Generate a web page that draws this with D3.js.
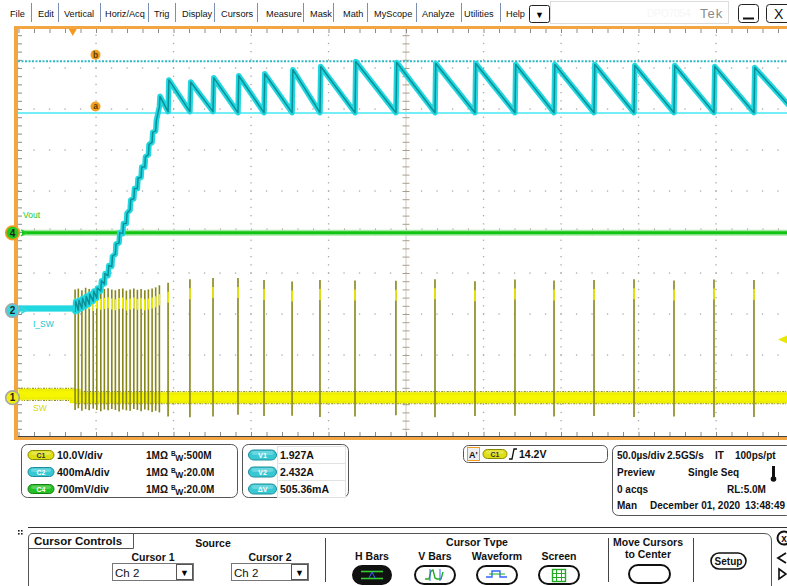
<!DOCTYPE html>
<html><head><meta charset="utf-8">
<script src="https://cdn.jsdelivr.net/npm/d3@7/dist/d3.min.js"></script>
<style>
html,body{margin:0;padding:0;background:#fff;overflow:hidden}
svg{display:block}
text{font-family:"Liberation Sans",Arial,Helvetica,sans-serif}
</style></head><body>
<svg id="c" width="787" height="586"></svg>
<script>
// ================= DATA =================
const menuItems = ["File","Edit","Vertical","Horiz/Acq","Trig","Display","Cursors","Measure","Mask","Math","MyScope","Analyze","Utilities","Help"];
const timeRange = [-250, 250];          // µs, 50 µs/div, 10 div
const divRange = [-5, 5];               // vertical divisions
const majorTimeTicks = [-200,-150,-100,-50,50,100,150,200];
const majorDivTicks = [-4,-3,-2,-1,1,2,3,4];

// channel table
const chIds = ["C1","C2","C4"];
const chScaleText = ["10.0V/div","400mA/div","700mV/div"];
const chImpedance = ["1MΩ","1MΩ","1MΩ"];
const chBandwidth = ["500M","20.0M","20.0M"];
const unitsPerDiv = [10, 0.4, 0.7];
const positionDiv = [-4.04, -1.915, -0.02];
const chLabels = ["SW","I_SW","Vout"];
const chMarkers = ["1","2","4"];

// SW node (C1), volts
const swIdleLevel = 0.8;
const swRunLevel = 0;
const denseT = [-213.5,-211.4,-209.1,-206.7,-204.4,-201.8,-199.5,-196.9,-194.6,-192.2,-189.8,-187.5,-185.1,-182.7,-180.4,-178.0,-175.6,-173.3,-170.9,-168.5,-166.2,-163.8,-161.5,-159.1];
const denseSpikeV = [26.4,26.6,26.2,26.8,26.5,26.0,26.6,26.3,26.5,26.7,26.4,26.2,26.5,26.6,26.1,26.4,26.6,26.3,26.5,26.2,26.4,26.6,26.9,27.4];
const denseDipV = [-3.0,-2.6,-3.2,-2.8,-3.1,-2.7,-3.0,-3.3,-2.9,-3.1,-2.8,-3.0,-3.4,-2.9,-3.1,-3.2,-2.8,-3.0,-3.3,-2.9,-3.1,-3.5,-3.2,-3.6];
const burstT = [-153.5,-139.4,-124.5,-108.4,-91.6,-73.5,-55.5,-32.9,-6.5,18.7,44.5,70.3,95.5,121.3,147.1,172.9,198.7,224.5];
const burstSpikeV = [28.0,28.9,29.2,29.2,28.7,28.3,28.7,28.6,28.5,28.9,28.4,28.8,28.6,28.7,28.9,28.6,28.8,28.7];
const burstDipV = [-4.6,-4.8,-4.6,-4.2,-4.5,-4.4,-4.7,-4.6,-4.3,-4.8,-4.5,-4.4,-4.6,-4.5,-4.7,-4.6,-4.8,-4.7];

// inductor current (C2), amps
const iswIdle = 0.02;
const rampAmps = [0.04,0.05,0.07,0.09,0.11,0.14,0.17,0.24,0.31,0.39,0.48,0.60,0.71,0.80,0.90,1.03,1.14,1.24,1.35,1.45,1.57,1.69,1.80,2.04];
const rampRipple = 0.05;
const burstPeak = [2.25,2.23,2.27,2.29,2.31,2.35,2.38,2.43,2.42,2.41,2.41,2.40,2.40,2.40,2.39,2.39,2.38,2.37];
const burstValley = [1.94,1.94,1.94,1.93,1.93,1.93,1.93,1.93,1.93,1.93,1.93,1.93,1.93,1.93,1.93,1.93,1.93,1.93];
const tailValley = 1.95;

// Vout (C4)
const voutLevel = 0;

// cursors / trigger / timebase
const cursorNames = ["V1","V2","ΔV"];
const cursorAmps = [1.927, 2.432];
const cursorLetters = ["a","b"];
const cursorReadout = ["1.927A","2.432A","505.36mA"];
const trigTime = -215;
const trigLevelV = 14.2;
const trigText = "14.2V";
const timebaseRows = [
  ["50.0µs/div","2.5GS/s","IT","100ps/pt"],
  ["Preview","Single Seq"],
  ["0 acqs","RL:5.0M"],
  ["Man","December 01, 2020","13:48:49"]
];
const cursorTypeNames = ["H Bars","V Bars","Waveform","Screen"];

// ================= DRAW =================
const svg = d3.select("#c");
const x = d3.scaleLinear().domain(timeRange).range([18.5, 793.5]);
const yd = d3.scaleLinear().domain(divRange).range([437, 27]);
const chY = (ch, v) => yd(v / unitsPerDiv[ch] + positionDiv[ch]);

svg.append("rect").attr("width",787).attr("height",586).attr("fill","#fff");

// ---------- menu bar ----------
const menuX = [10,38,64,105,154,182,221,266,310,343,374,422,464,506];
const sepX = [31,58,100,148,175,214,257,303,333,367,416,461,500];
const menu = svg.append("g");
menu.selectAll("text.m").data(menuItems).join("text")
  .attr("x",(d,i)=>menuX[i]).attr("y",16.5).attr("font-size",9.2).attr("fill","#111").text(d=>d);
menu.selectAll("line.s").data(sepX).join("line")
  .attr("x1",d=>d+0.5).attr("x2",d=>d+0.5).attr("y1",3).attr("y2",22).attr("stroke","#7d8fb0").attr("stroke-width",1);
menu.append("rect").attr("x",529.5).attr("y",5.5).attr("width",20).attr("height",17).attr("rx",2).attr("fill","#fff").attr("stroke","#222");
menu.append("text").attr("x",539.5).attr("y",17.5).attr("text-anchor","middle").attr("font-size",9).text("▼");
menu.append("rect").attr("x",550.5).attr("y",1.5).attr("width",178).attr("height",22).attr("fill","#fff").attr("stroke","#dcdcdc");
menu.append("text").attr("x",647).attr("y",17).attr("font-size",10).attr("fill","#f6f6f6").text("DPO7054");
menu.append("text").attr("x",700).attr("y",18).attr("font-size",13).attr("fill","#8a8a8a").attr("letter-spacing",1).text("Tek");
menu.append("rect").attr("x",738.5).attr("y",4.5).attr("width",20).attr("height",18).attr("rx",3).attr("fill","#fff").attr("stroke","#222");
menu.append("line").attr("x1",743).attr("x2",754).attr("y1",18.5).attr("y2",18.5).attr("stroke","#111").attr("stroke-width",2);
menu.append("rect").attr("x",766.5).attr("y",4.5).attr("width",24).attr("height",18).attr("rx",3).attr("fill","#fff").attr("stroke","#222");
menu.append("text").attr("x",774).attr("y",19).attr("font-size",14).attr("fill","#111").text("X");

// ---------- graticule ----------
const plot = svg.append("g");
plot.append("clipPath").attr("id","pc").append("rect").attr("x",18).attr("y",29).attr("width",769).attr("height",408);
const grid = plot.append("g").attr("clip-path","url(#pc)");
const minorDiv = d3.range(-5, 5.001, 0.2);
const minorTime = d3.range(-250, 250.001, 10);
majorTimeTicks.forEach(t => {
  grid.selectAll(null).data(minorDiv).join("rect")
    .attr("x", x(t)-0.6).attr("y", d=>yd(d)-0.6).attr("width",1.3).attr("height",1.3).attr("fill","#a9a9a9");
});
majorDivTicks.forEach(dv => {
  grid.selectAll(null).data(minorTime).join("rect")
    .attr("x", d=>x(d)-0.6).attr("y", yd(dv)-0.6).attr("width",1.3).attr("height",1.3).attr("fill","#a9a9a9");
});
// center cross
grid.append("line").attr("x1",x(0)).attr("x2",x(0)).attr("y1",29).attr("y2",437).attr("stroke","#cfc8bb").attr("stroke-width",1);
grid.append("line").attr("x1",18).attr("x2",787).attr("y1",yd(0)).attr("y2",yd(0)).attr("stroke","#cfc8bb").attr("stroke-width",1);
function tickAxis(axis, tx, ty, color){
  const g = grid.append("g").attr("transform",`translate(${tx},${ty})`).call(axis);
  g.select(".domain").remove();
  g.selectAll("text").remove();
  g.selectAll("line").attr("stroke",color).attr("stroke-width",1);
}
tickAxis(d3.axisLeft(yd).tickValues(minorDiv).tickSize(3.5), x(0), 0, "#a89f8e");
tickAxis(d3.axisRight(yd).tickValues(minorDiv).tickSize(3.5), x(0), 0, "#a89f8e");
tickAxis(d3.axisTop(x).tickValues(minorTime).tickSize(3.5), 0, yd(0), "#a89f8e");
tickAxis(d3.axisBottom(x).tickValues(minorTime).tickSize(3.5), 0, yd(0), "#a89f8e");
// border ticks
tickAxis(d3.axisBottom(x).tickValues(minorTime).tickSize(4), 0, 29, "#8c8c8c");
tickAxis(d3.axisRight(yd).tickValues(minorDiv).tickSize(4), 18, 0, "#8c8c8c");
tickAxis(d3.axisTop(x).tickValues(minorTime).tickSize(4), 0, 436, "#8c8c8c");
plot.append("line").attr("x1",18).attr("x2",787).attr("y1",436.5).attr("y2",436.5).attr("stroke","#444").attr("stroke-width",1);

// ---------- traces ----------
const traces = plot.append("g").attr("clip-path","url(#pc)");

// cursor lines (under traces)
traces.append("line").attr("x1",18).attr("x2",787).attr("y1",chY(1,cursorAmps[0])).attr("y2",chY(1,cursorAmps[0]))
  .attr("stroke","#74eef6").attr("stroke-width",2);
traces.append("line").attr("x1",18).attr("x2",787).attr("y1",chY(1,cursorAmps[1])).attr("y2",chY(1,cursorAmps[1]))
  .attr("stroke","#2fb9c4").attr("stroke-width",2).attr("stroke-dasharray","2,1.5");

// Vout (C4)
traces.append("line").attr("x1",22).attr("x2",787).attr("y1",chY(2,voutLevel)).attr("y2",chY(2,voutLevel))
  .attr("stroke","#a6e8a6").attr("stroke-width",6);
traces.append("line").attr("x1",22).attr("x2",787).attr("y1",chY(2,voutLevel)).attr("y2",chY(2,voutLevel))
  .attr("stroke","#12c412").attr("stroke-width",3);

// SW (C1): baseline band
const swBand = [[timeRange[0], swIdleLevel],[denseT[0], swIdleLevel],[denseT[0], swRunLevel],[timeRange[1], swRunLevel]];
const lineT = d3.line().x(d=>x(d[0])).y(d=>chY(0,d[1]));
[[-6,"#8f8f1c"],[6,"#8f8f1c"]].forEach(([off,c])=>{
  traces.append("path").attr("d",lineT(swBand)).attr("fill","none").attr("stroke",c).attr("stroke-width",1.4)
    .attr("stroke-dasharray","1,1.5,2,1").attr("transform",`translate(0,${off})`);
});
traces.append("path").attr("d",lineT(swBand)).attr("fill","none").attr("stroke","#eeee00").attr("stroke-width",11);
traces.append("path").attr("d",lineT(swBand)).attr("fill","none").attr("stroke","#f6f600").attr("stroke-width",6);

// SW spikes
function spikes(ts, tops, dips){
  const g = traces.append("g");
  g.selectAll("line.sp").data(ts).join("line")
    .attr("x1",d=>x(d)).attr("x2",d=>x(d))
    .attr("y1",(d,i)=>chY(0,tops[i])).attr("y2",(d,i)=>chY(0,dips[i]))
    .attr("stroke","#86861a").attr("stroke-width",1.6);
  g.selectAll("line.hi").data(ts).join("line")
    .attr("x1",d=>x(d)).attr("x2",d=>x(d))
    .attr("y1",(d,i)=>chY(0,tops[i])+9).attr("y2",(d,i)=>chY(0,tops[i])+20)
    .attr("stroke","#f0f000").attr("stroke-width",1.6);
}
spikes(denseT, denseSpikeV, denseDipV);
spikes(burstT, burstSpikeV, burstDipV);

// I_SW (C2)
const iPts = [[timeRange[0], iswIdle],[denseT[0], iswIdle]];
denseT.forEach((t,i)=>{
  iPts.push([t, rampAmps[i]-rampRipple]);
  iPts.push([t+0.4, rampAmps[i]+rampRipple]);
});
burstT.forEach((t,i)=>{
  iPts.push([t, burstValley[i]]);
  iPts.push([t+0.5, burstPeak[i]]);
});
iPts.push([timeRange[1], tailValley]);
const lineI = d3.line().x(d=>x(d[0])).y(d=>chY(1,d[1]));
traces.append("path").attr("d",lineI(iPts)).attr("fill","none").attr("stroke","#22d8e0").attr("stroke-width",5.5).attr("stroke-linejoin","round");
traces.append("path").attr("d",lineI(iPts)).attr("fill","none").attr("stroke","#0d8f98").attr("stroke-width",1.5).attr("stroke-linejoin","round");
traces.append("path").attr("d",lineI(iPts.slice(0,2))).attr("fill","none").attr("stroke","#22d8e0").attr("stroke-width",6);

// border (orange)
plot.append("rect").attr("x",14).attr("y",26).attr("width",4).attr("height",414).attr("fill","#f2a540");
plot.append("rect").attr("x",14).attr("y",26).attr("width",773).attr("height",3).attr("fill","#f2a540");
plot.append("rect").attr("x",14).attr("y",437).attr("width",773).attr("height",3).attr("fill","#f2a540");

// trigger position marker
const tx = x(trigTime);
plot.append("path").attr("d",`M${tx-4},29 L${tx+4},29 L${tx},36 Z`).attr("fill","#f29a20");
// trigger level arrow
const ty = chY(0, trigLevelV);
plot.append("path").attr("d",`M778,${ty} L787,${ty-4} L787,${ty+4} Z`).attr("fill","#e8e800");

// cursor letter markers
cursorLetters.forEach((l,i)=>{
  const cy = chY(1,cursorAmps[i]) - 6.5;
  plot.append("circle").attr("cx",95.5).attr("cy",cy).attr("r",5).attr("fill","#f2a020");
  plot.append("text").attr("x",95.5).attr("y",cy+3).attr("text-anchor","middle").attr("font-size",8.5).attr("font-weight","bold").attr("fill","#5a3b00").text(l);
});

// channel markers & labels
const chCol = ["#eeee10","#3ad6e0","#22cc22"];
const chTxt = ["#d8d800","#22c8d2","#22c822"];
const labelPos = [[33,411],[33,327],[23,218]];
chMarkers.forEach((m,i)=>{
  const cy = chY(i,0);
  plot.append("path").attr("d",`M21,${cy-3} L26,${cy} L21,${cy+3}`).attr("fill","none").attr("stroke",chCol[i]).attr("stroke-width",1.5);
  plot.append("circle").attr("cx",12.5).attr("cy",cy).attr("r",6.8).attr("fill",chCol[i])
    .attr("stroke", i===2 ? "#f29a20" : "#a8a8a8").attr("stroke-width",1.6);
  plot.append("text").attr("x",12.5).attr("y",cy+3.8).attr("text-anchor","middle").attr("font-size",10).attr("font-weight","bold").attr("fill","#222").text(m);
  plot.append("text").attr("x",labelPos[i][0]).attr("y",labelPos[i][1]).attr("font-size",8.5).attr("fill",chTxt[i]).text(chLabels[i]);
});

// ---------- info panels ----------
const info = svg.append("g");
const boldTxt = (g, xx, yy, s, size=10.5, anchor="start") =>
  g.append("text").attr("x",xx).attr("y",yy).attr("font-size",size).attr("font-weight","bold").attr("fill","#111").attr("text-anchor",anchor).text(s);
function pill(g, cx, cy, w, h, fill, stroke, label, tcol){
  g.append("rect").attr("x",cx-w/2).attr("y",cy-h/2).attr("width",w).attr("height",h).attr("rx",h/2)
    .attr("fill",fill).attr("stroke",stroke).attr("stroke-width",1);
  g.append("rect").attr("x",cx-w/2+3).attr("y",cy-h/2+1).attr("width",w-6).attr("height",h/2-1).attr("rx",h/4)
    .attr("fill","#fff").attr("opacity",0.25);
  g.append("text").attr("x",cx).attr("y",cy+2.6).attr("text-anchor","middle").attr("font-size",7).attr("font-weight","bold").attr("fill",tcol).text(label);
}
info.append("rect").attr("x",21.5).attr("y",444.5).attr("width",216).attr("height",53).attr("rx",6).attr("fill","#fff").attr("stroke","#555");
const rowY = [455,472,489];
const pillFill = ["#dede12","#38c8d4","#22c022"];
const pillStroke = ["#8a8a00","#1d8e98","#168016"];
const pillTxt = ["#333","#fff","#fff"];
chIds.forEach((c,i)=>{
  pill(info, 41, rowY[i], 26, 9, pillFill[i], pillStroke[i], c, pillTxt[i]);
  boldTxt(info, 57, rowY[i]+4, chScaleText[i]);
  boldTxt(info, 146, rowY[i]+4, chImpedance[i], 10);
  const t = info.append("text").attr("x",171).attr("y",rowY[i]+4).attr("font-size",10).attr("font-weight","bold").attr("fill","#111");
  t.append("tspan").attr("font-size",6.5).attr("dy",-3.5).text("B");
  t.append("tspan").attr("font-size",8.5).attr("dy",5).attr("dx",-0.5).text("W");
  t.append("tspan").attr("dy",-1.5).text(":"+chBandwidth[i]);
});
info.append("rect").attr("x",242.5).attr("y",444.5).attr("width",106).attr("height",53).attr("rx",6).attr("fill","#fff").attr("stroke","#555");
cursorNames.forEach((c,i)=>{
  pill(info, 262.5, rowY[i], 28, 10, "#38c8d4", "#1d8e98", c, "#fff");
  info.append("rect").attr("x",277.5).attr("y",rowY[i]-8.5).attr("width",68).attr("height",17).attr("fill","#fff").attr("stroke","#e2e2e2");
  boldTxt(info, 280, rowY[i]+4, cursorReadout[i]);
});
// trigger box
info.append("rect").attr("x",463.5).attr("y",445.5).attr("width",144).attr("height",17).attr("rx",5).attr("fill","#fff").attr("stroke","#555");
info.append("rect").attr("x",467.5).attr("y",447.5).attr("width",12).attr("height",13).attr("fill","#eee").attr("stroke","#f29a20");
boldTxt(info, 469, 458, "A'", 9);
pill(info, 495, 454, 24, 9, "#dede12", "#8a8a00", "C1", "#333");
info.append("path").attr("d","M509,459 L512,459 L514,449 L517,449").attr("fill","none").attr("stroke","#111").attr("stroke-width",1.3);
boldTxt(info, 519, 458, trigText);
// timebase box
info.append("rect").attr("x",612.5).attr("y",445.5).attr("width",180).attr("height",70).attr("rx",6).attr("fill","#fff").attr("stroke","#555");
const tbX = [[617,667,715,735],[617,688],[617,727],[617,650,745]];
const tbY = [459,476,493,509];
timebaseRows.forEach((row,r)=>row.forEach((s,k)=>boldTxt(info, tbX[r][k], tbY[r], s, 10)));
info.append("rect").attr("x",772).attr("y",466).attr("width",3).attr("height",11).attr("fill","#111");
info.append("circle").attr("cx",773.5).attr("cy",479).attr("r",2.8).attr("fill","#111");

// ---------- cursor controls ----------
const cc = svg.append("g");
cc.append("line").attr("x1",28).attr("x2",787).attr("y1",527.5).attr("y2",527.5).attr("stroke","#333");
cc.selectAll(null).data([[18,530],[21,530],[18,533],[21,533]]).join("rect")
  .attr("x",d=>d[0]).attr("y",d=>d[1]).attr("width",1.6).attr("height",1.6).attr("fill","#222");
cc.append("path").attr("d","M133,533.5 L764,533.5 Q771.5,533.5 771.5,541 L771.5,586").attr("fill","none").attr("stroke","#555");
cc.append("path").attr("d","M28.5,586 L28.5,538 Q28.5,533.5 33,533.5 L133.5,533.5 L133.5,548.5 L28.5,548.5").attr("fill","#fff").attr("stroke","#555");
boldTxt(cc, 34, 545, "Cursor Controls", 11.5);
boldTxt(cc, 213, 547, "Source", 10.5, "middle");
boldTxt(cc, 153, 561, "Cursor 1", 10.5, "middle");
boldTxt(cc, 270, 561, "Cursor 2", 10.5, "middle");
[[112,193],[231,308]].forEach(([a,b])=>{
  cc.append("rect").attr("x",a+0.5).attr("y",563.5).attr("width",b-a).attr("height",17).attr("fill","#fff").attr("stroke","#777");
  cc.append("rect").attr("x",b-16.5).attr("y",564.5).attr("width",16).attr("height",15).attr("fill","#fff").attr("stroke","#555");
  cc.append("text").attr("x",b-8.5).attr("y",576).attr("text-anchor","middle").attr("font-size",9).text("▼");
  cc.append("text").attr("x",a+3).attr("y",577).attr("font-size",11.5).attr("fill","#111").text("Ch 2");
});
[325,608,693].forEach(sx=>cc.append("line").attr("x1",sx+0.5).attr("x2",sx+0.5).attr("y1",538).attr("y2",582).attr("stroke","#444"));
boldTxt(cc, 477, 546, "Cursor Tvpe", 10.5, "middle");
const typeX = [372, 435, 497, 559];
cursorTypeNames.forEach((s,i)=>boldTxt(cc, typeX[i], 560, s, 10.5, "middle"));
const ovalW = [38,40,40,40];
typeX.forEach((cx,i)=>{
  cc.append("rect").attr("x",cx-ovalW[i]/2).attr("y",566).attr("width",ovalW[i]).attr("height",18).attr("rx",9)
    .attr("fill", i===0 ? "#111" : "#fff").attr("stroke","#111").attr("stroke-width",2);
});
cc.append("line").attr("x1",361).attr("x2",383).attr("y1",571.5).attr("y2",571.5).attr("stroke","#3c3").attr("stroke-width",1.6);
cc.append("line").attr("x1",361).attr("x2",383).attr("y1",578.5).attr("y2",578.5).attr("stroke","#3c3").attr("stroke-width",1.6);
cc.append("path").attr("d","M369,578 L372,572 L375,578").attr("fill","none").attr("stroke","#36f").attr("stroke-width",1);
cc.append("path").attr("d","M425,579 L429,579 L431,571 L433,570 L435,578 L437,579 L441,579 L443,572").attr("fill","none").attr("stroke","#2a2").attr("stroke-width",1.4);
cc.append("line").attr("x1",430).attr("x2",430).attr("y1",569).attr("y2",581).attr("stroke","#36f");
cc.append("line").attr("x1",440).attr("x2",440).attr("y1",569).attr("y2",581).attr("stroke","#36f");
cc.append("path").attr("d","M486,577 L492,577 L492,571 L500,571 L500,577 L507,577").attr("fill","none").attr("stroke","#36f").attr("stroke-width",1.4);
cc.append("line").attr("x1",489).attr("x2",505).attr("y1",574).attr("y2",574).attr("stroke","#2a2");
cc.append("rect").attr("x",552.5).attr("y",569.5).attr("width",13).attr("height",12).attr("fill","#fff").attr("stroke","#2a2").attr("stroke-width",1.4);
[556.5,561.5].forEach(v=>cc.append("line").attr("x1",v).attr("x2",v).attr("y1",570).attr("y2",581).attr("stroke","#2a2"));
[573.5,577.5].forEach(v=>cc.append("line").attr("x1",553).attr("x2",565).attr("y1",v).attr("y2",v).attr("stroke","#2a2"));
boldTxt(cc, 648, 546, "Move Cursors", 10.5, "middle");
boldTxt(cc, 648, 558, "to Center", 10.5, "middle");
cc.append("rect").attr("x",629).attr("y",565).attr("width",41).attr("height",18).attr("rx",9).attr("fill","#fff").attr("stroke","#111").attr("stroke-width",2);
cc.append("rect").attr("x",711).attr("y",553).attr("width",35).attr("height",16).attr("rx",8).attr("fill","#fff").attr("stroke","#111").attr("stroke-width",1.6);
boldTxt(cc, 728.5, 565, "Setup", 10, "middle");
cc.append("circle").attr("cx",784).attr("cy",538).attr("r",6.5).attr("fill","#fff").attr("stroke","#111").attr("stroke-width",2);
boldTxt(cc, 784, 542, "x", 10, "middle");
cc.append("path").attr("d","M786,553 L778,558 L786,563").attr("fill","none").attr("stroke","#111").attr("stroke-width",1.8);
cc.append("path").attr("d","M779,569 L786,574 L779,579 Z").attr("fill","none").attr("stroke","#111").attr("stroke-width",1.6);
</script>
</body></html>
